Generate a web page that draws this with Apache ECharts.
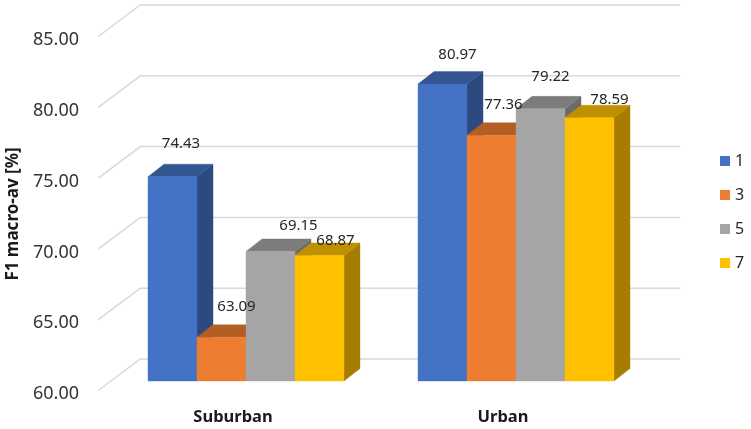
<!DOCTYPE html>
<html>
<head>
<meta charset="utf-8">
<style>
  html, body { margin: 0; padding: 0; background: #fff; }
  #main { width: 751px; height: 429px; }
</style>
<script src="https://cdn.jsdelivr.net/npm/echarts@6/dist/echarts.min.js"></script>
</head>
<body>
<div id="main"></div>
<script>
var categories = ['Suburban', 'Urban'];
var seriesNames = ['1', '3', '5', '7'];
var values1 = [74.43, 80.97];
var values3 = [63.09, 77.36];
var values5 = [69.15, 79.22];
var values7 = [68.87, 78.59];
var yTicks = [60, 65, 70, 75, 80, 85];

var allValues = [values1, values3, values5, values7];
var faceColors = ['#4472C4', '#ED7D31', '#A5A5A5', '#FFC000'];
var topColors = ['#335693', '#B25E25', '#7C7C7C', '#BF9000'];
var sideColors = ['#2C4A7F', '#9A5120', '#6B6B6B', '#A67D00'];

// bar box depth, wall offset, and hand placed value labels (same as the original)
var barW = 49, depthX = 16, depthY = 12.5;
var wallX = 29.3, wallY = 22, frontX = 12.7, frontY = 9.5;
var labelOffsets = [
  [[8.5, -33], [15, -29]],
  [[15, -31], [12, -30]],
  [[28, -26], [10, -32]],
  [[16, -15], [20, -18]]
];

var chart = echarts.init(document.getElementById('main'));

function poly(points, color) {
  return {
    type: 'polygon',
    shape: { points: points },
    style: { fill: color, stroke: color, lineWidth: 0.4 }
  };
}

function barRenderer(s) {
  return function(params, api) {
    var cat = api.value(0);
    var top = api.coord([cat, api.value(1)]);
    var base = api.coord([cat, 60]);
    var x0 = top[0] - 2 * barW + s * barW;
    var x1 = x0 + barW;
    return {
      type: 'group',
      children: [
        poly([[x1, top[1]], [x1 + depthX, top[1] - depthY], [x1 + depthX, base[1] - depthY], [x1, base[1]]], sideColors[s]),
        poly([[x0, top[1]], [x0 + depthX, top[1] - depthY], [x1 + depthX, top[1] - depthY], [x1, top[1]]], topColors[s]),
        poly([[x0, top[1]], [x1, top[1]], [x1, base[1]], [x0, base[1]]], faceColors[s])
      ]
    };
  };
}

var series = [{
  type: 'custom',
  name: 'walls',
  z: 1,
  silent: true,
  encode: { x: 0, y: 1 },
  data: yTicks.map(function(t) { return [0, t]; }),
  renderItem: function(params, api) {
    var y = api.coord([0, api.value(1)])[1];
    var cs = params.coordSys;
    return {
      type: 'polyline',
      shape: {
        points: [
          [cs.x - frontX, y + frontY],
          [cs.x + wallX, y - wallY],
          [cs.x + cs.width + wallX, y - wallY]
        ]
      },
      style: { fill: null, stroke: '#D9D9D9', lineWidth: 1.5 }
    };
  }
}];

seriesNames.forEach(function(name, s) {
  series.push({
    type: 'custom',
    name: name,
    z: 2 + s,
    itemStyle: { color: faceColors[s] },
    encode: { x: 0, y: 1 },
    data: allValues[s].map(function(v, c) { return [c, v]; }),
    renderItem: barRenderer(s)
  });
});

// labels go last so no bar covers them
var labelData = [];
allValues.forEach(function(vals, s) {
  vals.forEach(function(v, c) { labelData.push([c, v, s]); });
});
series.push({
  type: 'custom',
  name: 'labels',
  z: 10,
  silent: true,
  encode: { x: 0, y: 1 },
  data: labelData,
  renderItem: function(params, api) {
    var c = api.value(0), v = api.value(1), s = api.value(2);
    var p = api.coord([c, v]);
    var off = labelOffsets[s][c];
    return {
      type: 'text',
      style: {
        text: v.toFixed(2),
        x: p[0] - 2 * barW + s * barW + barW / 2 + off[0],
        y: p[1] + off[1],
        fill: '#262626',
        font: '15px "Noto Sans"',
        align: 'center',
        verticalAlign: 'middle'
      }
    };
  }
});

var option = {
  animation: false,
  backgroundColor: '#fff',
  grid: { left: 111, right: 100, top: 27, bottom: 48, outerBoundsMode: 'none' },
  legend: {
    orient: 'vertical',
    left: 715,
    top: 145,
    itemWidth: 10,
    itemHeight: 10,
    itemGap: 12,
    icon: 'rect',
    data: seriesNames,
    textStyle: { color: '#262626', fontSize: 16, lineHeight: 22, fontFamily: 'Noto Sans' }
  },
  xAxis: {
    type: 'category',
    data: categories,
    axisLine: { show: false },
    axisTick: { show: false },
    splitLine: { show: false },
    axisLabel: {
      margin: 28,
      padding: [0, 26, 0, 0],
      color: '#1a1a1a',
      fontSize: 16.5,
      fontWeight: 'bold',
      fontFamily: 'Noto Sans'
    }
  },
  yAxis: {
    type: 'value',
    min: 60,
    max: 85,
    interval: 5,
    name: 'F1 macro-av [%]',
    nameLocation: 'middle',
    nameGap: 86,
    nameTextStyle: {
      color: '#1a1a1a',
      fontSize: 17,
      fontWeight: 'bold',
      fontFamily: 'Noto Sans',
      padding: [0, 20, 0, 0]
    },
    axisLine: { show: false },
    axisTick: { show: false },
    splitLine: { show: false },
    axisLabel: {
      margin: 32,
      verticalAlign: 'top',
      lineHeight: 26,
      color: '#333',
      fontSize: 18,
      fontFamily: 'Noto Sans',
      formatter: function(v) { return v.toFixed(2); }
    }
  },
  series: series
};
chart.setOption(option);
</script>
</body>
</html>
